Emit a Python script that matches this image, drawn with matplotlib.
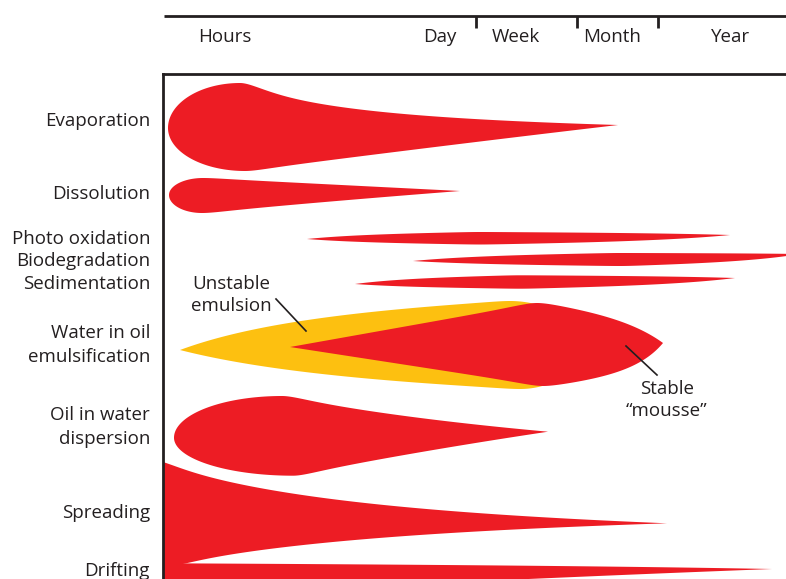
import matplotlib.pyplot as plt
import numpy as np

# Time-scale header (schematic, positions along the process axis)
period_labels = ["Hours", "Day", "Week", "Month", "Year"]
period_label_x = [225, 440, 516, 612, 731]
period_ticks = [476, 577, 658]

# Process names and the height of each row
process_labels = ["Evaporation", "Dissolution", "Photo oxidation", "Biodegradation",
                  "Sedimentation", "Water in oil\nemulsification", "Oil in water\ndispersion",
                  "Spreading", "Drifting"]
process_label_y = [121, 194, 239, 261, 284, 345, 427, 513, 571]

# Each band: left tip, right tip, and top/bottom edge peaks
# (x_peak, y_peak, left profile, right profile); 'round' = elliptic cap,
# a number k = tapering profile (1-t)/(1+k t)
evaporation = dict(left=(168, 128), right=(618, 125),
                   top=(240, 83, 'round', 2.67), bottom=(245, 171, 'round', 0.05))
dissolution = dict(left=(169, 195), right=(460, 191),
                   top=(203, 178, 'round', 0.0), bottom=(202, 213, 'round', 0.1))
photo_oxidation = dict(left=(307, 239), right=(730, 235),
                       top=(480, 232, -0.6, -0.6), bottom=(480, 244.5, -0.6, -0.6))
biodegradation = dict(left=(413, 261), right=(800, 254),
                      top=(620, 253, -0.6, -0.6), bottom=(620, 266, -0.6, -0.6))
sedimentation = dict(left=(355, 284), right=(735, 278),
                     top=(520, 275.3, -0.6, -0.6), bottom=(520, 288.7, -0.6, -0.6))
unstable_emulsion = dict(left=(180, 350), right=(580, 347),
                         top=(510, 301, -0.6, 'round'), bottom=(520, 389, -0.55, 'round'))
stable_mousse = dict(left=(290, 347), right=(663, 343),
                     top=(537, 303, 0.0, -0.565), bottom=(543, 386, 0.0, -0.7))
dispersion = dict(left=(174, 437.7), right=(548, 431.7),
                  top=(282, 396, 'round', 0.48), bottom=(293, 475.7, 'round', 0.15))
spreading = dict(left=(120, 513), right=(667, 523.3),
                 top=(152, 460, 'round', 2.0), bottom=(168, 566, 'round', 1.6))
drifting = dict(left=(130, 580), right=(772, 569),
                top=(163, 563.3, 'round', -0.5), bottom=(163, 597, 'round', 0.2))

red_bands = [evaporation, dissolution, photo_oxidation, biodegradation, sedimentation,
             dispersion, spreading, drifting]

RED = '#ED1C24'
YELLOW = '#FDC010'
INK = '#231F20'
FS = 13.5
SMOOTH_PX = 14  # rounding of the shoulder where a taper meets its peak


def profile(t, style, tau):
    if style == 'round':
        return np.sqrt(np.clip(1 - t ** 2, 0, 1))
    g = (1 - t) / (1 + style * t)
    # cancel the kink at the peak so the edge leaves it smoothly
    return g + (1 + style) * t * np.exp(-t / tau)


def edge(x, x0, y0, x1, y1, spec):
    xp, yp, left_style, right_style = spec
    y = np.empty_like(x)
    m = x <= xp
    t = (xp - x[m]) / (xp - x0)
    y[m] = y0 + (yp - y0) * profile(t, left_style, SMOOTH_PX / (xp - x0))
    t = (x[~m] - xp) / (x1 - xp)
    y[~m] = y1 + (yp - y1) * profile(t, right_style, SMOOTH_PX / (x1 - xp))
    return y


def band(ax, b, color):
    (x0, y0), (x1, y1) = b['left'], b['right']
    s = np.linspace(0, 1, 1200)
    x = x0 + (x1 - x0) * (1 - np.cos(np.pi * s)) / 2
    top = edge(x, x0, y0, x1, y1, b['top'])
    bot = edge(x, x0, y0, x1, y1, b['bottom'])
    ax.fill(np.concatenate([x, x[::-1]]), np.concatenate([top, bot[::-1]]),
            color=color, lw=0)


def stacked_text(ax, x, y, label, step, **kw):
    lines = label.split("\n")
    for i, line in enumerate(lines):
        ax.text(x, y + (i - (len(lines) - 1) / 2) * step, line, va='center',
                fontsize=FS, color=INK, clip_on=False, **kw)


plt.rcParams['font.family'] = ['Open Sans', 'DejaVu Sans']

fig = plt.figure(figsize=(7.86, 5.79), dpi=100)
ax = fig.add_axes([163 / 786, 0, 623 / 786, 505 / 579])
ax.set_xlim(163, 786)
ax.set_ylim(579, 74)
ax.set_xticks([])
ax.set_yticks([])
for side in ['right', 'bottom']:
    ax.spines[side].set_visible(False)
for side in ['left', 'top']:
    ax.spines[side].set_linewidth(2)
    ax.spines[side].set_color(INK)

# bands
band(ax, unstable_emulsion, YELLOW)
band(ax, stable_mousse, RED)
for b in red_bands:
    band(ax, b, RED)

# time header
ax.plot([164, 786], [16, 16], color=INK, lw=2, clip_on=False, solid_capstyle='butt')
for tx in period_ticks:
    ax.plot([tx, tx], [16, 28], color=INK, lw=2, clip_on=False, solid_capstyle='butt')
for lab, lx in zip(period_labels, period_label_x):
    ax.text(lx, 37, lab, ha='center', va='center', fontsize=FS, color=INK)

# process labels
for lab, ly in zip(process_labels, process_label_y):
    stacked_text(ax, 150, ly, lab, 24, ha='right')

# callouts
stacked_text(ax, 231, 295, "Unstable\nemulsion", 22, ha='center')
ax.plot([276, 306], [299, 331], color=INK, lw=1.2)
stacked_text(ax, 667, 400, "Stable\n\u201cmousse\u201d", 22, ha='center')
ax.plot([626, 657], [346, 375], color=INK, lw=1.2)

fig.savefig("out.png", dpi=100)
